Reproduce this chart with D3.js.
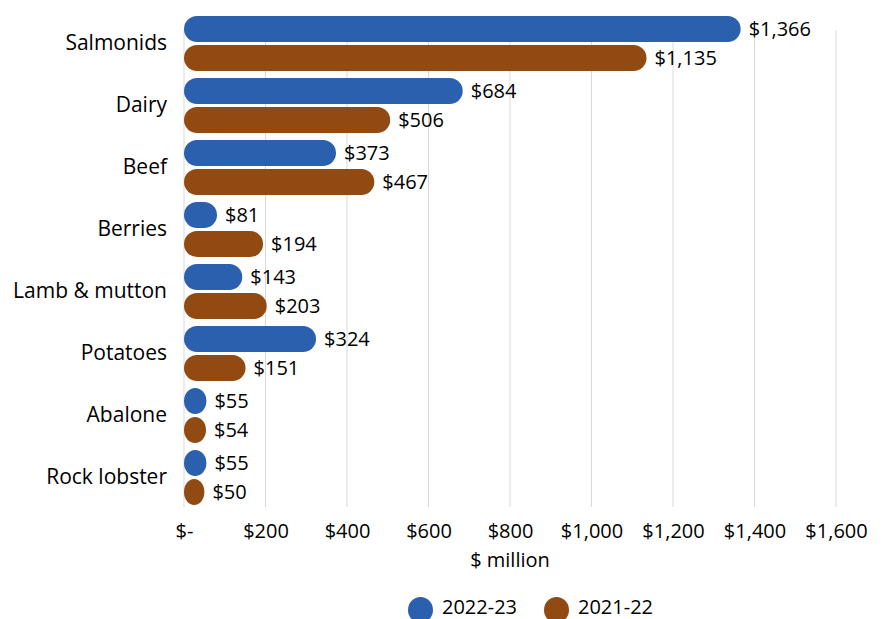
<!DOCTYPE html>
<html>
<head>
<meta charset="utf-8">
<script src="https://cdn.jsdelivr.net/npm/d3@7"></script>
<style>
  html, body { margin: 0; padding: 0; background: #fff; }
  svg { display: block; font-family: "Open Sans", "Noto Sans", sans-serif; }
</style>
</head>
<body>
<svg id="chart" width="888" height="619"></svg>
<script>
const categories = ["Salmonids", "Dairy", "Beef", "Berries", "Lamb & mutton", "Potatoes", "Abalone", "Rock lobster"];
const seriesNames = ["2022-23", "2021-22"];
const values2223 = [1366, 684, 373, 81, 143, 324, 55, 55];
const values2122 = [1135, 506, 467, 194, 203, 151, 54, 50];
const xTicks = [0, 200, 400, 600, 800, 1000, 1200, 1400, 1600];
const colors = ["#2A60AD", "#914A12"];

const svg = d3.select("#chart");
const fontSize = 20;

const x = d3.scaleLinear().domain([0, 1600]).range([184, 836]);
const y0 = d3.scaleBand().domain(categories).range([12.5, 508.5]).paddingInner(0).paddingOuter(0);
const y1 = d3.scaleBand().domain(seriesNames).range([3.5, 58.5]).paddingInner(3 / 29).paddingOuter(0);

const fmt = v => v === 0 ? "$-" : "$" + d3.format(",")(v);

// gridlines
svg.append("g").selectAll("line").data(xTicks).join("line")
  .attr("x1", d => x(d)).attr("x2", d => x(d))
  .attr("y1", 30).attr("y2", 507)
  .attr("stroke", "#d9d9d9").attr("stroke-width", 1);

// x axis labels
const xAxis = d3.axisBottom(x).tickValues(xTicks).tickFormat(fmt).tickSize(0).tickPadding(0);
const gx = svg.append("g").attr("transform", "translate(0,538)").call(xAxis);
gx.select(".domain").remove();
gx.selectAll("text").attr("dy", 0).attr("font-size", fontSize).attr("fill", "#000")
  .attr("font-family", "'Open Sans', 'Noto Sans', sans-serif");

// axis title
svg.append("text").attr("x", (x(0) + x(1600)) / 2).attr("y", 567)
  .attr("text-anchor", "middle").attr("font-size", fontSize).attr("fill", "#000")
  .text("$ million");

// category labels
const yAxis = d3.axisLeft(y0).tickSize(0).tickPadding(0);
const gy = svg.append("g").attr("transform", "translate(167,0)").call(yAxis);
gy.select(".domain").remove();
gy.selectAll("text").attr("dy", "0.33em").attr("font-size", 21).attr("fill", "#000")
  .attr("font-family", "'Open Sans', 'Noto Sans', sans-serif");

// bars
const rows = categories.map((c, i) => ({ cat: c, vals: [values2223[i], values2122[i]] }));
const groups = svg.append("g").selectAll("g").data(rows).join("g")
  .attr("transform", d => `translate(0,${y0(d.cat)})`);

groups.selectAll("rect").data(d => d.vals.map((v, j) => ({ s: seriesNames[j], v, j }))).join("rect")
  .attr("x", x(0))
  .attr("y", d => y1(d.s))
  .attr("width", d => x(d.v) - x(0))
  .attr("height", y1.bandwidth())
  .attr("rx", y1.bandwidth() / 2)
  .attr("ry", y1.bandwidth() / 2)
  .attr("fill", d => colors[d.j]);

groups.selectAll("text.val").data(d => d.vals.map((v, j) => ({ s: seriesNames[j], v, j }))).join("text")
  .attr("class", "val")
  .attr("x", d => Math.max(x(d.v), x(0) + 18) + 8)
  .attr("y", d => y1(d.s) + y1.bandwidth() / 2)
  .attr("dy", "0.35em")
  .attr("font-size", fontSize).attr("fill", "#000")
  .text(d => fmt(d.v));

// legend
const legend = svg.append("g");
const legX = [408, 544];
seriesNames.forEach((s, i) => {
  legend.append("rect").attr("x", legX[i]).attr("y", 597).attr("width", 25).attr("height", 26)
    .attr("rx", 12.5).attr("ry", 13).attr("fill", colors[i]);
  legend.append("text").attr("x", legX[i] + 34).attr("y", 614)
    .attr("font-size", fontSize).attr("fill", "#000").text(s);
});
</script>
</body>
</html>
